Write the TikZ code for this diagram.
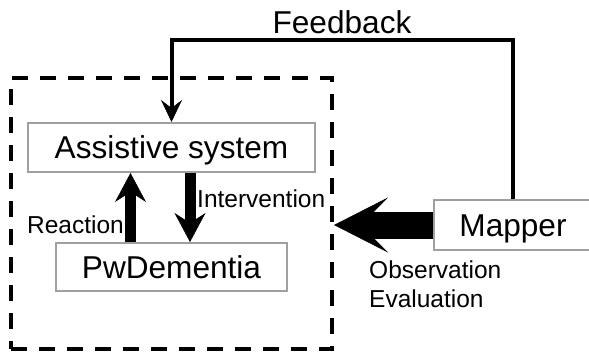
\documentclass[tikz,border=0pt]{standalone}
\usepackage{fontspec}
\setmainfont{Liberation Sans}
\usetikzlibrary{arrows.meta}
\definecolor{boxgray}{RGB}{160,160,160}
\begin{document}
\begin{tikzpicture}[x=1pt,y=-1pt,
    bigfont/.style={font=\fontsize{31.6}{36}\selectfont},
    smallfont/.style={font=\fontsize{24.5}{29}\selectfont},
    block/.style={draw=boxgray, line width=2pt, bigfont, inner sep=0pt,
                  text height=22.6pt, text depth=0pt},
    label/.style={smallfont, inner sep=0pt},
    fb/.style={line width=4pt, -{Stealth[length=22pt, width=21pt, inset=8pt, line width=0.5pt]}},
    flow/.style={line width=11pt, -{Stealth[length=29pt, width=31pt, inset=10pt, line width=0.5pt]}},
    bigflow/.style={line width=27pt, -{Stealth[length=54pt, width=55pt, inset=27pt, line width=0.5pt]}},
    sysframe/.style={draw, dashed, line width=4pt, dash pattern=on 16pt off 12pt}
  ]
  \useasboundingbox (0,0) rectangle (589,351);

  % the system boundary
  \node[sysframe, minimum width=321pt, minimum height=271pt, inner sep=0pt] (sysbox) at (171.5,213.5) {};

  % blocks
  \node[block, minimum width=287pt, minimum height=49pt] (asys) at (171.5,147.5) {Assistive system};
  \node[block, minimum width=231pt, minimum height=48pt] (pwd) at (171.5,267) {PwDementia};
  \node[block, minimum width=158pt, minimum height=50pt] (mapper) at (513,225) {Mapper};

  % inner loop
  \draw[flow] ([xshift=-41pt]pwd.north) -- ([xshift=-41pt]asys.south);
  \draw[flow] ([xshift=18.5pt]asys.south) -- ([xshift=18.5pt]pwd.north);
  \node[label, anchor=base east] (reaction) at (124,233) {Reaction};
  \node[label, anchor=base west] (intervention) at (197,207) {Intervention};

  % mapper to system
  \draw[bigflow] (mapper.west) -- (mapper.west -| sysbox.east);
  \node[label, anchor=base west, align=left] (obs) at (369,307) {Observation\\Evaluation};

  % feedback loop
  \coordinate (fbtop) at (0,40);
  \draw[fb] (mapper.north) -- (mapper.north |- fbtop) -| (asys.north);
  \node[bigfont, inner sep=0pt, anchor=base] (feedback) at (342,33) {Feedback};
\end{tikzpicture}
\end{document}
